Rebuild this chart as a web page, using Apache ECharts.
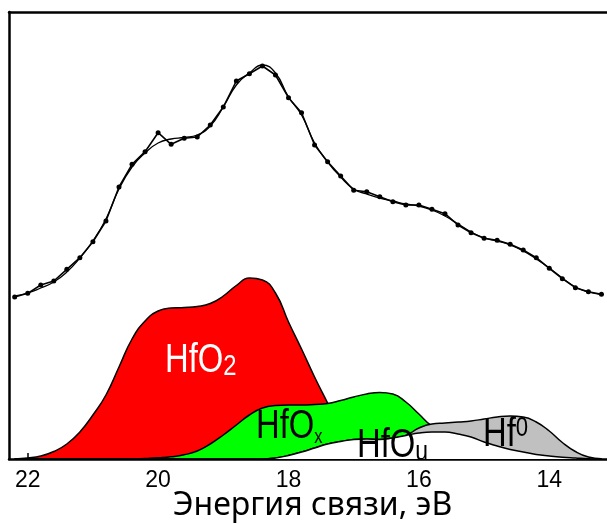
<!DOCTYPE html>
<html>
<head>
<meta charset="utf-8">
<script src="https://cdn.jsdelivr.net/npm/echarts@6/dist/echarts.min.js"></script>
<style>
  html, body { margin: 0; padding: 0; background: #fff; }
  #chart { width: 607px; height: 524px; }
</style>
</head>
<body>
<div id="chart"></div>
<script>
// Binding energy grid, eV (0.2 eV step)
const energy = [22.2, 22.0, 21.8, 21.6, 21.4, 21.2, 21.0, 20.8, 20.6, 20.4, 20.2, 20.0, 19.8, 19.6, 19.4, 19.2,
  19.0, 18.8, 18.6, 18.4, 18.2, 18.0, 17.8, 17.6, 17.4, 17.2, 17.0, 16.8, 16.6, 16.4, 16.2, 16.0,
  15.8, 15.6, 15.4, 15.2, 15.0, 14.8, 14.6, 14.4, 14.2, 14.0, 13.8, 13.6, 13.4, 13.2];

// Measured spectrum (arb. units)
const measured = [162, 165.7, 174, 178, 189.7, 201.3, 217.3, 238, 272, 294.7, 307.3, 326.3, 314.7, 320.7, 322, 334,
  352, 378, 385.3, 393, 384, 361.3, 346.3, 314, 297.3, 283, 268.7, 267.3, 262.3, 257.3, 254, 254,
  249.7, 245.3, 234, 226.3, 220.7, 218.7, 214.7, 209, 201.3, 190.7, 180.3, 171.3, 167.3, 164.7];

// Fitted envelope
const fitted = [163, 166, 171, 177, 187, 201, 218, 240, 270, 292, 306, 316, 320, 321.5, 324, 333,
  352, 374, 386, 394, 386, 362, 344, 316, 297, 282, 270, 265, 261, 258, 255, 253,
  249, 243, 235, 227, 221, 218, 214, 208, 200, 191, 181, 172, 167, 164.5];

// Fit components
const hfO2 = [0, 1, 3, 7.5, 15, 27, 44, 64, 92, 120, 138, 148, 151, 151.5, 152.5, 155.5,
  163, 173.5, 181, 179, 166, 137, 110, 82, 56, 30, 12, 4, 1, 0, 0, 0,
  0, 0, 0, 0, 0, 0, 0, 0, 0, 0, 0, 0, 0, 0];
const hfOu = [0, 0, 0, 0, 0, 0, 0, 0, 0, 0, 0, 0, 0, 0, 0, 0,
  0, 0, 0, 0, 1, 3.5, 7, 11, 15, 17.5, 19.5, 20, 19.5, 21, 23.5, 26,
  27, 27, 25, 22, 17, 13, 9.5, 7, 4.5, 3, 1.8, 1, 0.3, 0];
// HfOx and Hf0 are drawn stacked on top of HfOu
const hfOx = [0, 0, 0, 0, 0, 0, 0, 0, 0, 0, 0.5, 1.2, 2.2, 4.2, 8, 15,
  24, 34, 44, 51, 52.5, 50.5, 47, 43.5, 40.5, 41, 42.5, 45, 47, 44, 33.5, 19,
  6, 1, 0, 0, 0, 0, 0, 0, 0, 0, 0, 0, 0, 0];
const hf0 = [0, 0, 0, 0, 0, 0, 0, 0, 0, 0, 0, 0, 0, 0, 0, 0,
  0, 0, 0, 0, 0, 0, 0, 0, 0, 0, 0, 0, 0, 0, 0, 5,
  8, 9, 12, 16, 23, 29, 33.5, 35, 32.5, 25, 14.7, 6.5, 1.7, 0.3];

const tickValues = [22, 20, 18, 16, 14];
const axisTitle = 'Энергия связи, эВ';

const pairs = vals => energy.map((e, i) => [e, vals[i]]);
const onTopOfHfOu = vals => energy.map((e, i) => [e, hfOu[i] + vals[i]]);

const labelFont = '"Liberation Sans", Arial, sans-serif';
const xRange = { min: 13.115, max: 22.287 };

const edge = { color: '#000', width: 1.5 };
function component(name, data, fill, z) {
  return {
    name, type: 'line', data, z,
    smooth: 0.5, showSymbol: false, symbol: 'none',
    lineStyle: edge, areaStyle: { color: fill, opacity: 1 },
    silent: true
  };
}

// Peak labels: narrow sans with sub/superscript
function peakLabel(x, y, main, extra, color, extraSize, align) {
  return {
    type: 'text', x, y, z: 20, scaleX: 0.82, scaleY: 1,
    style: {
      text: '{a|' + main + '}{s|' + extra + '}',
      rich: {
        a: { fontSize: 40, lineHeight: 40, fontFamily: labelFont, fill: color },
        s: { fontSize: extraSize, lineHeight: extraSize, fontFamily: labelFont, fill: color, verticalAlign: align }
      }
    }
  };
}

const chart = echarts.init(document.getElementById('chart'), null, { renderer: 'canvas' });
chart.setOption({
  animation: false,
  grid: { left: 9, right: 0, top: 12, bottom: 65, outerBoundsMode: 'none', containLabel: false },
  xAxis: [{
    type: 'value', position: 'bottom', inverse: true, ...xRange,
    axisLine: { lineStyle: { color: '#000', width: 2.5 } },
    axisTick: { show: true, inside: true, length: 6, customValues: tickValues, lineStyle: { color: '#000', width: 1.5 } },
    axisLabel: { customValues: tickValues, color: '#000', fontSize: 23, fontFamily: labelFont, margin: 10 },
    splitLine: { show: false },
    name: axisTitle, nameLocation: 'middle', nameGap: 31, nameMoveOverlap: false,
    nameTextStyle: { color: '#000', fontSize: 32, fontFamily: '"Noto Sans", "Open Sans", sans-serif', padding: [0, 0, 0, 9] }
  }, {
    type: 'value', position: 'top', inverse: true, ...xRange,
    axisLine: { lineStyle: { color: '#000', width: 2.5 } },
    axisTick: { show: false }, axisLabel: { show: false }, splitLine: { show: false }
  }],
  yAxis: {
    type: 'value', min: 0, max: 447,
    axisLine: { show: true, lineStyle: { color: '#000', width: 2.5 } },
    axisTick: { show: false }, axisLabel: { show: false }, splitLine: { show: false }
  },
  series: [
    component('HfO2', pairs(hfO2), '#ff0000', 2),
    component('HfOx', onTopOfHfOu(hfOx), '#00ff00', 3),
    component('Hf0', onTopOfHfOu(hf0), '#c0c0c0', 4),
    component('HfOu', pairs(hfOu), '#ffffff', 5),
    {
      name: 'fit', type: 'line', data: pairs(fitted), z: 6,
      smooth: 0.5, symbol: 'none',
      lineStyle: { color: '#000', width: 1.3 }, silent: true
    },
    {
      name: 'measured', type: 'line', data: pairs(measured), z: 7,
      symbol: 'circle', symbolSize: 5, showAllSymbol: true,
      itemStyle: { color: '#000' },
      lineStyle: { color: '#000', width: 1.6 }, silent: true
    }
  ],
  graphic: [
    peakLabel(165, 341, 'HfO', '2', '#fff', 29, 'bottom'),
    peakLabel(256, 407, 'HfO', 'x', '#000', 20, 'bottom'),
    peakLabel(357, 426, 'HfO', 'u', '#000', 28, 'bottom'),
    peakLabel(483, 415, 'Hf', '0', '#000', 27, 'top')
  ]
});
</script>
</body>
</html>
